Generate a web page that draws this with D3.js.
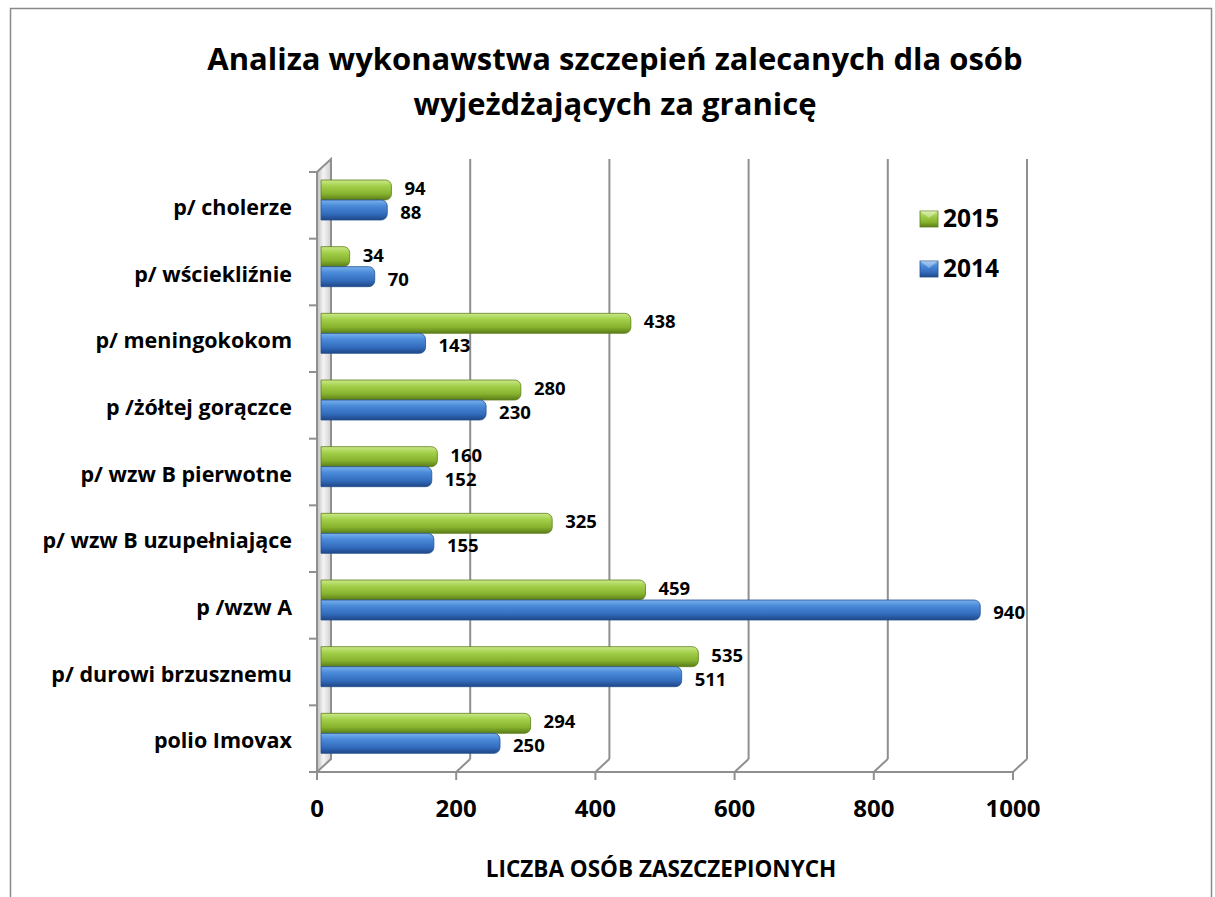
<html>
<head>
<meta charset="utf-8">
<title>Analiza wykonawstwa szczepień</title>
<style>
  body { margin: 0; background: #fff; }
  text { font-family: "Open Sans", "DejaVu Sans", sans-serif; font-weight: bold; fill: #000; }
</style>
</head>
<body>
<script src="https://cdn.jsdelivr.net/npm/d3@7/dist/d3.min.js"></script>
<script>

// dane
var categories = ["p/ cholerze", "p/ wściekliźnie", "p/ meningokokom", "p /żółtej gorączce",
                  "p/ wzw B pierwotne", "p/ wzw B uzupełniające", "p /wzw A",
                  "p/ durowi brzusznemu", "polio Imovax "];
var values2015 = [94, 34, 438, 280, 160, 325, 459, 535, 294];
var values2014 = [88, 70, 143, 230, 152, 155, 940, 511, 250];
var seriesNames = ["2015", "2014"];
var xTicks = [0, 200, 400, 600, 800, 1000];

var width = 1215, height = 897;
var depthX = 14, depthY = -13;   // przesunięcie "3D" tylnej ściany

var svg = d3.select("body").append("svg")
    .attr("width", width)
    .attr("height", height);

var defs = svg.append("defs");

function vGrad(id, stops) {
  var g = defs.append("linearGradient").attr("id", id)
      .attr("x1", 0).attr("y1", 0).attr("x2", 0).attr("y2", 1);
  stops.forEach(function(s){
    g.append("stop").attr("offset", s[0]).attr("stop-color", s[1]);
  });
}
vGrad("g2015", [["0%", "#cbe98a"], ["30%", "#a3d04a"], ["70%", "#86b22e"], ["100%", "#5b7c18"]]);
vGrad("g2014", [["0%", "#79b1ee"], ["30%", "#4a8ad8"], ["70%", "#336cbd"], ["100%", "#1f4786"]]);

var wallGrad = defs.append("linearGradient").attr("id", "wall")
    .attr("x1", 0).attr("y1", 0).attr("x2", 1).attr("y2", 0);
wallGrad.append("stop").attr("offset", "0%").attr("stop-color", "#bdbdbd");
wallGrad.append("stop").attr("offset", "45%").attr("stop-color", "#f4f4f4");
wallGrad.append("stop").attr("offset", "100%").attr("stop-color", "#d0d0d0");

// ramka wykresu
svg.append("rect")
    .attr("x", 10.5).attr("y", 8.5)
    .attr("width", 1201).attr("height", 900)
    .attr("fill", "none").attr("stroke", "#8a8a8a").attr("stroke-width", 1.5);

// tytuł
var title = svg.append("text")
    .attr("text-anchor", "middle")
    .attr("font-size", "31px");
title.append("tspan").attr("x", 615).attr("y", 70)
    .text("Analiza wykonawstwa szczepień zalecanych dla osób");
title.append("tspan").attr("x", 615).attr("y", 115)
    .text("wyjeżdżających za granicę");

// skale
var x = d3.scaleLinear().domain([0, 1000]).range([317, 1013]);
var y = d3.scaleBand().domain(categories).range([172, 772]);
var ySub = d3.scaleBand().domain(seriesNames).range([8, 48]);

var floorY = 772;

// siatka (tylna ściana)
svg.selectAll("line.grid")
    .data(xTicks.slice(1))
    .enter().append("line")
    .attr("class", "grid")
    .attr("x1", function(d){ return x(d) + depthX; })
    .attr("x2", function(d){ return x(d) + depthX; })
    .attr("y1", y.range()[0] + depthY)
    .attr("y2", floorY + depthY)
    .attr("stroke", "#8f8f8f").attr("stroke-width", 2);

// przekątne podłogi
svg.selectAll("line.diag")
    .data(xTicks.slice(1))
    .enter().append("line")
    .attr("class", "diag")
    .attr("x1", function(d){ return x(d) + depthX; })
    .attr("x2", function(d){ return x(d); })
    .attr("y1", floorY + depthY)
    .attr("y2", floorY)
    .attr("stroke", "#8f8f8f").attr("stroke-width", 2);

// oś X
svg.append("line")
    .attr("x1", x(0)).attr("x2", x(1000))
    .attr("y1", floorY).attr("y2", floorY)
    .attr("stroke", "#8f8f8f").attr("stroke-width", 2);

svg.selectAll("line.xtick")
    .data(xTicks)
    .enter().append("line")
    .attr("class", "xtick")
    .attr("x1", function(d){ return x(d); })
    .attr("x2", function(d){ return x(d); })
    .attr("y1", floorY).attr("y2", floorY + 8)
    .attr("stroke", "#8f8f8f").attr("stroke-width", 2);

svg.selectAll("text.xlabel")
    .data(xTicks)
    .enter().append("text")
    .attr("class", "xlabel")
    .attr("x", function(d){ return x(d); })
    .attr("y", 817)
    .attr("text-anchor", "middle")
    .attr("font-size", "24px")
    .text(function(d){ return d; });

// lewa ściana
var top0 = y.range()[0];
svg.append("polygon")
    .attr("points", [
      [x(0), top0], [x(0) + depthX, top0 + depthY],
      [x(0) + depthX, floorY + depthY], [x(0), floorY]
    ].join(" "))
    .attr("fill", "url(#wall)")
    .attr("stroke", "#8f8f8f").attr("stroke-width", 2);

// znaczniki osi Y
var bounds = categories.map(function(c){ return y(c); }).concat([floorY]);
svg.selectAll("line.ytick")
    .data(bounds)
    .enter().append("line")
    .attr("class", "ytick")
    .attr("x1", x(0) - 8).attr("x2", x(0))
    .attr("y1", function(d){ return d; })
    .attr("y2", function(d){ return d; })
    .attr("stroke", "#8f8f8f").attr("stroke-width", 2);

// etykiety kategorii
svg.selectAll("text.cat")
    .data(categories)
    .enter().append("text")
    .attr("class", "cat")
    .attr("x", 292)
    .attr("y", function(d){ return y(d) + y.bandwidth() / 2 + 4; })
    .attr("dominant-baseline", "middle")
    .attr("text-anchor", "end")
    .attr("font-size", "21.5px")
    .text(function(d){ return d; });

// słupki
var barStart = x(0) + 4;
function barPath(x0, x1, y0, h) {
  var r = Math.min(6, (x1 - x0) / 2);
  return "M" + x0 + "," + y0 +
         "H" + (x1 - r) +
         "A" + r + "," + r + " 0 0 1 " + x1 + "," + (y0 + r) +
         "V" + (y0 + h - r) +
         "A" + r + "," + r + " 0 0 1 " + (x1 - r) + "," + (y0 + h) +
         "H" + x0 + "Z";
}

var series = [
  { name: "2015", values: values2015, fill: "url(#g2015)", stroke: "#5f7f1c", dy: 0 },
  { name: "2014", values: values2014, fill: "url(#g2014)", stroke: "#24528f", dy: 4 }
];

series.forEach(function(s){
  var g = svg.append("g");
  g.selectAll("path")
    .data(s.values)
    .enter().append("path")
    .attr("d", function(d, i){
      return barPath(barStart, x(d) + 9, y(categories[i]) + ySub(s.name), ySub.bandwidth());
    })
    .attr("fill", s.fill)
    .attr("stroke", s.stroke).attr("stroke-width", 0.8);

  g.selectAll("text")
    .data(s.values)
    .enter().append("text")
    .attr("x", function(d){ return x(d) + 22; })
    .attr("y", function(d, i){
      return y(categories[i]) + ySub(s.name) + ySub.bandwidth() / 2 + s.dy;
    })
    .attr("dominant-baseline", "middle")
    .attr("font-size", "18.5px")
    .text(function(d){ return d; });
});

// legenda
var legend = svg.append("g");
var legendY = [219, 269];
series.forEach(function(s, i){
  legend.append("rect")
    .attr("x", 920).attr("y", legendY[i] - 8)
    .attr("width", 18).attr("height", 16)
    .attr("fill", s.fill)
    .attr("stroke", s.stroke).attr("stroke-width", 0.8);
  legend.append("path")
    .attr("d", "M920," + (legendY[i] - 8) + "L938," + (legendY[i] - 8) + "L929," + (legendY[i] - 1) + "Z")
    .attr("fill", "#ffffff").attr("opacity", 0.35);
  legend.append("text")
    .attr("x", 943).attr("y", legendY[i] + 1)
    .attr("dominant-baseline", "middle")
    .attr("font-size", "24.5px")
    .text(s.name);
});

// tytuł osi
svg.append("text")
    .attr("x", 661).attr("y", 877)
    .attr("text-anchor", "middle")
    .attr("font-size", "22.5px")
    .text("LICZBA OSÓB ZASZCZEPIONYCH");

</script>
</body>
</html>
